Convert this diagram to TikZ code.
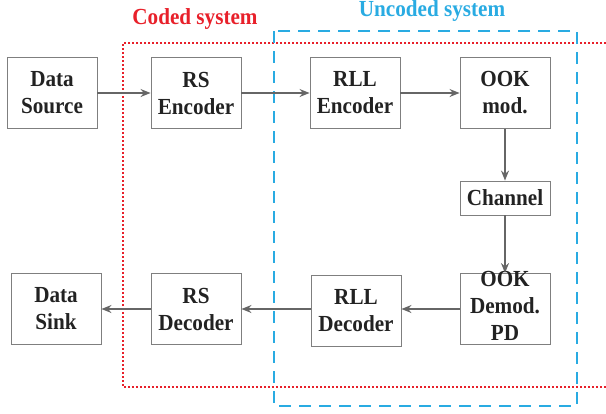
\documentclass[tikz,border=0pt]{standalone}
\usepackage{fontspec}
\setmainfont{Liberation Serif}[FakeStretch=0.92]
\usetikzlibrary{arrows.meta}
\definecolor{codedred}{HTML}{E8202A}
\definecolor{uncodedblue}{HTML}{29ABE2}
\definecolor{boxgray}{HTML}{7F7F7F}
\definecolor{arrowgray}{HTML}{666666}
\definecolor{textdark}{HTML}{222222}
\tikzset{
  blockbox/.style={draw=boxgray, line width=0.9pt, minimum width=90pt, minimum height=71pt,
    inner sep=0pt, align=center, text=textdark, font=\fontsize{23}{27}\selectfont\bfseries},
  flow/.style={draw=arrowgray, line width=1.3pt, -{Stealth[length=10pt,width=8pt]}}
}
\begin{document}
\begin{tikzpicture}[x=1pt, y=-1pt]
\useasboundingbox (0,0) rectangle (606,413);
\draw[codedred, line width=1.6pt, dash pattern=on 2pt off 2pt] (606,43) -- (123,43) -- (123,387) -- (606,387);
\draw[uncodedblue, line width=1.6pt, dash pattern=on 12pt off 8pt] (274,31) rectangle (577,406);
\node[text=codedred, font=\fontsize{23}{27}\selectfont\bfseries] (coded) at (195,19) {Coded system};
\node[text=uncodedblue, font=\fontsize{23}{27}\selectfont\bfseries] (uncoded) at (432,11) {Uncoded system};
\node[blockbox] (src) at (52,93) {Data\\Source};
\node[blockbox] (rsenc) at (196,93) {RS\\Encoder};
\node[blockbox] (rllenc) at (355,93) {RLL\\Encoder};
\node[blockbox] (ook) at (505,93) {OOK\\mod.};
\node[blockbox, minimum height=34pt] (chan) at (505,198) {Channel};
\node[blockbox] (demod) at (505,309) {};
\node[text=textdark, font=\fontsize{23}{27}\selectfont\bfseries, align=center, inner sep=0pt] (demodtext) at (505,306) {OOK\\Demod.\\PD};
\node[blockbox] (rlldec) at (356,311) {RLL\\Decoder};
\node[blockbox] (rsdec) at (196,309) {RS\\Decoder};
\node[blockbox] (sink) at (56,309) {Data\\Sink};
\draw[flow] (src) -- (rsenc);
\draw[flow] (rsenc) -- (rllenc);
\draw[flow] (rllenc) -- (ook);
\draw[flow] (ook) -- (chan);
\draw[flow] (chan) -- (demod);
\draw[flow] (demod.west) -- (rlldec.east |- demod.west);
\draw[flow] (rlldec.west |- rsdec.east) -- (rsdec.east);
\draw[flow] (rsdec) -- (sink);
\end{tikzpicture}
\end{document}
